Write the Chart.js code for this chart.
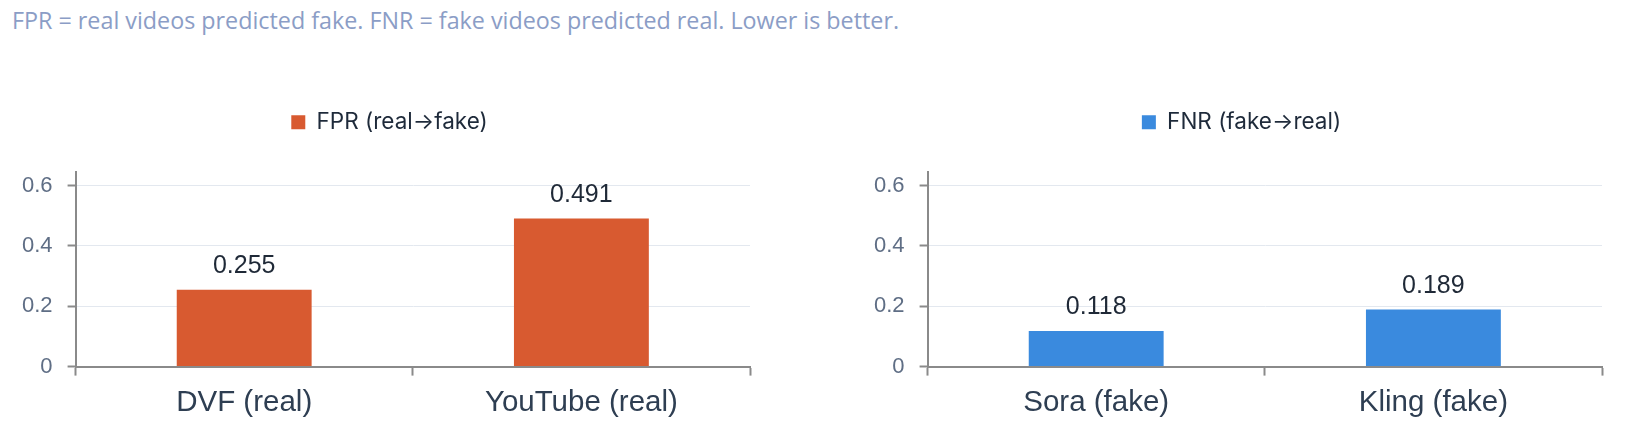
<!DOCTYPE html>
<html>
<head>
<meta charset="utf-8">
<script src="https://cdn.jsdelivr.net/npm/chart.js@4.4.1/dist/chart.umd.min.js"></script>
<style>
  html, body { margin: 0; padding: 0; background: #fff; }
  body { width: 1639px; height: 447px; position: relative; overflow: hidden; }
  #caption {
    position: absolute; left: 12px; top: 6px;
    font-family: "Open Sans", sans-serif; font-size: 23.3px; line-height: 28px;
    color: #8b9dc6; white-space: nowrap;
  }
  .box { position: absolute; top: 101px; width: 780px; height: 334px; }
  #leftBox { left: 0; }
  #rightBox { left: 852px; }
</style>
</head>
<body>
<div id="caption">FPR = real videos predicted fake. FNR = fake videos predicted real. Lower is better.</div>
<div class="box" id="leftBox"><canvas id="fprChart"></canvas></div>
<div class="box" id="rightBox"><canvas id="fnrChart"></canvas></div>

<script>
// data
const realCategories = ['DVF (real)', 'YouTube (real)'];
const fprValues = [0.255, 0.491];
const fakeCategories = ['Sora (fake)', 'Kling (fake)'];
const fnrValues = [0.118, 0.189];
const yTicks = [0, 0.2, 0.4, 0.6];

const axisGray = '#8a8a8a';

// Draw the numbers above each bar
const valueLabels = {
    id: 'valueLabels',
    afterDatasetsDraw(chart) {
        const ctx = chart.ctx;
        ctx.save();
        ctx.font = '25px "Liberation Sans", Arial, sans-serif';
        ctx.fillStyle = '#1f2937';
        ctx.textAlign = 'center';
        ctx.textBaseline = 'alphabetic';
        chart.getDatasetMeta(0).data.forEach((bar, i) => {
            const v = chart.data.datasets[0].data[i];
            ctx.fillText(v.toFixed(3), bar.x, bar.y - 17);
        });
        ctx.restore();
    }
};

// Extra room under the legend, and nudge it a bit to the right
const legendGap = {
    id: 'legendGap',
    beforeInit(chart) {
        const origFit = chart.legend.fit;
        chart.legend.fit = function () {
            origFit.bind(chart.legend)();
            this.height += 28;
        };
    },
    afterLayout(chart) {
        chart.legend.left += 11;
        chart.legend.right += 11;
    }
};

function renderChart(id, labels, values, title, color) {
    const ctx = document.getElementById(id).getContext('2d');
    return new Chart(ctx, {
        type: 'bar',
        data: {
            labels: labels,
            datasets: [{
                label: title,
                data: values,
                backgroundColor: color,
                borderWidth: 0,
                barPercentage: 0.8,
                categoryPercentage: 0.5
            }]
        },
        options: {
            responsive: true,
            maintainAspectRatio: false,
            animation: false,
            layout: { padding: { left: 7, right: 30, top: 0, bottom: 4 } },
            plugins: {
                legend: {
                    display: true,
                    position: 'top',
                    labels: {
                        boxWidth: 14,
                        boxHeight: 14,
                        color: '#1e2a3a',
                        font: { family: 'Inter, "Noto Sans", sans-serif', size: 22.5 }
                    }
                },
                tooltip: { enabled: false }
            },
            scales: {
                x: {
                    grid: {
                        display: true,
                        drawOnChartArea: false,
                        drawTicks: true,
                        tickLength: 9,
                        tickColor: axisGray,
                        tickWidth: 2,
                        offset: true
                    },
                    border: { display: true, color: axisGray, width: 2 },
                    ticks: {
                        color: '#2e3e52',
                        padding: 10,
                        font: { family: '"Liberation Sans", Arial, sans-serif', size: 29.5 }
                    }
                },
                y: {
                    min: 0,
                    max: 0.647,
                    afterBuildTicks(scale) {
                        scale.ticks = yTicks.map(v => ({ value: v }));
                    },
                    grid: {
                        color: '#e3e8ef',
                        lineWidth: 1,
                        tickLength: 8,
                        tickColor: axisGray,
                        tickWidth: 2
                    },
                    border: { display: true, color: axisGray, width: 2 },
                    ticks: {
                        color: '#5f6e85',
                        padding: 15,
                        font: { family: '"Liberation Sans", Arial, sans-serif', size: 22 },
                        callback: v => (v === 0 ? '0' : v.toFixed(1))
                    }
                }
            }
        },
        plugins: [valueLabels, legendGap]
    });
}

renderChart('fprChart', realCategories, fprValues, 'FPR (real\u2192fake)', '#d85a30');
renderChart('fnrChart', fakeCategories, fnrValues, 'FNR (fake\u2192real)', '#3a8ade');
</script>
</body>
</html>
